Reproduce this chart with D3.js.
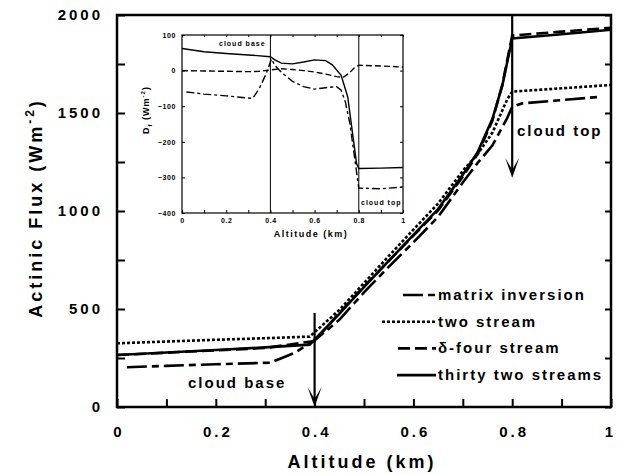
<!DOCTYPE html>
<html>
<head>
<meta charset="utf-8">
<script src="https://cdn.jsdelivr.net/npm/d3@7"></script>
<style>
  body { margin: 0; background: #fff; }
  svg text { font-family: "Liberation Sans", Arial, sans-serif; font-weight: bold; fill: #000; }
</style>
</head>
<body>
<script>
// ---- main panel data (altitude km, actinic flux W m-2) ----
var alt32   = [0, 0.1, 0.2, 0.3, 0.39, 0.45, 0.5, 0.55, 0.6, 0.65, 0.7, 0.73, 0.76, 0.78, 0.8, 0.9, 1.0];
var flux32  = [265, 278, 291, 304, 318, 475, 612, 745, 878, 1010, 1185, 1300, 1470, 1640, 1880, 1902, 1925];

var altTwo  = [0, 0.1, 0.2, 0.3, 0.39, 0.45, 0.5, 0.55, 0.6, 0.65, 0.7, 0.73, 0.76, 0.79, 0.8, 0.9, 1.0];
var fluxTwo = [325, 334, 343, 351, 359, 495, 632, 770, 905, 1038, 1205, 1290, 1400, 1570, 1609, 1626, 1643];

var altMat  = [0.02, 0.1, 0.2, 0.31, 0.36, 0.4, 0.45, 0.5, 0.55, 0.6, 0.65, 0.7, 0.73, 0.76, 0.79, 0.8, 0.82, 0.98];
var fluxMat = [203, 210, 218, 226, 277, 340, 445, 585, 715, 840, 970, 1145, 1245, 1335, 1475, 1532, 1549, 1583];

var altD4   = [0, 0.1, 0.2, 0.3, 0.4, 0.45, 0.5, 0.55, 0.6, 0.65, 0.7, 0.73, 0.76, 0.78, 0.8, 0.9, 1.0];
var fluxD4  = [265, 277, 289, 301, 337, 480, 615, 745, 874, 1003, 1175, 1290, 1462, 1645, 1895, 1915, 1935];

var xTicks = [0, 0.1, 0.2, 0.3, 0.4, 0.5, 0.6, 0.7, 0.8, 0.9, 1];
var yTicks = [0, 250, 500, 750, 1000, 1250, 1500, 1750, 2000];

// ---- inset data (D_f, W m-2) ----
var inAltTwo  = [0, 0.1, 0.2, 0.3, 0.4, 0.42, 0.45, 0.5, 0.55, 0.6, 0.65, 0.68, 0.72, 0.75, 0.77, 0.79, 0.8, 0.9, 1.0];
var inDiffTwo = [62, 53, 48, 44, 39, 30, 21, 19, 24, 30, 28, 16, -13, -74, -168, -261, -275, -274, -272];

var inAltD4   = [0, 0.1, 0.2, 0.3, 0.35, 0.4, 0.45, 0.5, 0.55, 0.6, 0.65, 0.7, 0.73, 0.76, 0.78, 0.8, 0.9, 1.0];
var inDiffD4  = [0, -1, -2, -3, -2, 2, 5, 3, 0, -4, -10, -17, -19, -5, 8, 15, 13, 10];

var inAltMat  = [0.02, 0.1, 0.2, 0.3, 0.32, 0.35, 0.38, 0.405, 0.42, 0.45, 0.5, 0.55, 0.6, 0.65, 0.7, 0.72, 0.74, 0.76, 0.78, 0.8, 0.9, 1.0];
var inDiffMat = [-60, -66, -71, -77, -78, -50, -10, 33, 15, -5, -30, -45, -52, -48, -45, -55, -90, -150, -240, -330, -332, -327];

var inXTicks = [0, 0.1, 0.2, 0.3, 0.4, 0.5, 0.6, 0.7, 0.8, 0.9, 1];
var inYTicks = [-400, -300, -200, -100, 0, 100];

var legendNames = ["matrix inversion", "two stream", "\u03b4-four stream", "thirty two streams"];

function zip(a, b) { return a.map(function(v, i) { return [v, b[i]]; }); }

function tenthsLabel(d) {
    var k = Math.round(d * 10);
    if (k % 2) return "";
    return (k === 0 || k === 10) ? String(k / 10) : (k / 10).toFixed(1);
}

var svg = d3.select("body").append("svg")
    .attr("width", 617).attr("height", 474);

// main scales
var x = d3.scaleLinear().domain([0, 1]).range([117, 611]);
var y = d3.scaleLinear().domain([0, 2000]).range([407, 15]);

// x axis
var xAxis = svg.append("g")
    .attr("transform", "translate(0,407)")
    .call(d3.axisBottom(x).tickValues(xTicks).tickSize(-8).tickPadding(19).tickFormat(tenthsLabel));
xAxis.select(".domain").remove();
xAxis.selectAll("line").attr("stroke-width", 2);
xAxis.selectAll("text").style("font-size", "15px").style("letter-spacing", "3px")
    .attr("dx", function(d) { return d === 1 ? "-1px" : "1.5px"; });

// y axis
var yAxis = svg.append("g")
    .attr("transform", "translate(117,0)")
    .call(d3.axisLeft(y).tickValues(yTicks).tickSize(-8).tickPadding(14)
        .tickFormat(function(d) { return d % 500 ? "" : d; }));
yAxis.select(".domain").remove();
yAxis.selectAll("line").attr("stroke-width", 2);
yAxis.selectAll("text").style("font-size", "15px").style("letter-spacing", "3px");

// right side ticks
var yRight = svg.append("g")
    .attr("transform", "translate(611,0)")
    .call(d3.axisRight(y).tickValues(yTicks).tickSize(-6).tickFormat(""));
yRight.select(".domain").remove();
yRight.selectAll("line").attr("stroke-width", 2);

// frame
svg.append("rect")
    .attr("x", x(0)).attr("y", y(2000))
    .attr("width", x(1) - x(0)).attr("height", y(0) - y(2000))
    .attr("fill", "none").attr("stroke", "#000").attr("stroke-width", 2.5);

// axis titles
svg.append("text")
    .attr("x", 362).attr("y", 468)
    .attr("text-anchor", "middle")
    .style("font-size", "18px").style("letter-spacing", "3px")
    .text("Altitude (km)");

var yt = svg.append("text")
    .attr("transform", "translate(42,208) rotate(-90)")
    .attr("text-anchor", "middle")
    .style("font-size", "18px").style("letter-spacing", "3px");
yt.append("tspan").text("Actinic Flux (Wm");
yt.append("tspan").attr("dy", -8).style("font-size", "12px").text("-2");
yt.append("tspan").attr("dy", 8).text(")");

// series
var line = d3.line()
    .x(function(d) { return x(d[0]); })
    .y(function(d) { return y(d[1]); });

var series = [
    {data: zip(altD4, fluxD4),   dash: "12,5"},
    {data: zip(alt32, flux32),   dash: null},
    {data: zip(altTwo, fluxTwo), dash: "3,2"},
    {data: zip(altMat, fluxMat), dash: "20,5,7,5"}
];
series.forEach(function(s) {
    svg.append("path")
        .datum(s.data)
        .attr("d", line)
        .attr("fill", "none")
        .attr("stroke", "#000")
        .attr("stroke-width", 2.6)
        .attr("stroke-dasharray", s.dash);
});

// arrows
function arrow(xv, y0, y1) {
    var xp = x(xv), top = y(y0), tip = y(y1);
    svg.append("line")
        .attr("x1", xp).attr("x2", xp).attr("y1", top).attr("y2", tip - 4)
        .attr("stroke", "#000").attr("stroke-width", 2.2);
    svg.append("path")
        .attr("d", "M" + (xp - 7) + "," + (tip - 20) + " L" + xp + "," + tip +
            " L" + (xp + 7) + "," + (tip - 20) + " L" + xp + "," + (tip - 8) + " Z")
        .attr("fill", "#000");
}
arrow(0.4, 480, 0);
arrow(0.8, 2000, 1170);

svg.append("text").attr("x", 188).attr("y", 388)
    .style("font-size", "15px").style("letter-spacing", "2px").text("cloud base");
svg.append("text").attr("x", 517).attr("y", 136)
    .style("font-size", "15px").style("letter-spacing", "2px").text("cloud top");

// legend
var legDash = ["20,5,7,5", "3,2", "12,5", null];
var legStart = [403, 382, 398, 397];
legendNames.forEach(function(name, i) {
    var base = 300 + i * 26.7;
    svg.append("line")
        .attr("x1", legStart[i]).attr("x2", 436)
        .attr("y1", base - 5).attr("y2", base - 5)
        .attr("stroke", "#000").attr("stroke-width", 2.6)
        .attr("stroke-dasharray", legDash[i]);
    svg.append("text")
        .attr("x", 438).attr("y", base)
        .style("font-size", "15px").style("letter-spacing", "2px")
        .text(name);
});

// ---- inset ----
var ix = d3.scaleLinear().domain([0, 1]).range([182, 403]);
var iy = d3.scaleLinear().domain([-400, 100]).range([213, 35]);

svg.append("rect")
    .attr("x", ix(0)).attr("y", iy(100))
    .attr("width", ix(1) - ix(0)).attr("height", iy(-400) - iy(100))
    .attr("fill", "#fff").attr("stroke", "#000").attr("stroke-width", 1.2);

var ixAxis = svg.append("g")
    .attr("transform", "translate(0," + iy(-400) + ")")
    .call(d3.axisBottom(ix).tickValues(inXTicks).tickSize(-3).tickPadding(5).tickFormat(tenthsLabel));
ixAxis.select(".domain").remove();
ixAxis.selectAll("text").style("font-size", "7px").style("letter-spacing", "0.6px");

var ixTop = svg.append("g")
    .attr("transform", "translate(0," + iy(100) + ")")
    .call(d3.axisTop(ix).tickValues(inXTicks).tickSize(-2).tickFormat(""));
ixTop.select(".domain").remove();

var iyAxis = svg.append("g")
    .attr("transform", "translate(" + ix(0) + ",0)")
    .call(d3.axisLeft(iy).tickValues(inYTicks).tickSize(-3).tickPadding(6));
iyAxis.select(".domain").remove();
iyAxis.selectAll("text").style("font-size", "7px").style("letter-spacing", "0.6px");

var iyRight = svg.append("g")
    .attr("transform", "translate(" + ix(1) + ",0)")
    .call(d3.axisRight(iy).tickValues(inYTicks).tickSize(-3).tickFormat(""));
iyRight.select(".domain").remove();

[0.4, 0.8].forEach(function(v) {
    svg.append("line")
        .attr("x1", ix(v)).attr("x2", ix(v)).attr("y1", iy(100)).attr("y2", iy(-400))
        .attr("stroke", "#000").attr("stroke-width", 1);
});

var iline = d3.line()
    .x(function(d) { return ix(d[0]); })
    .y(function(d) { return iy(d[1]); });

var inset = [
    {data: zip(inAltD4, inDiffD4),   dash: "6,3"},
    {data: zip(inAltTwo, inDiffTwo), dash: null},
    {data: zip(inAltMat, inDiffMat), dash: "8,3,3,3"}
];
inset.forEach(function(s) {
    svg.append("path")
        .datum(s.data)
        .attr("d", iline)
        .attr("fill", "none")
        .attr("stroke", "#000")
        .attr("stroke-width", 1.4)
        .attr("stroke-dasharray", s.dash);
});

svg.append("text").attr("x", 219).attr("y", 46)
    .style("font-size", "7px").style("letter-spacing", "1px").text("cloud base");
svg.append("text").attr("x", 361).attr("y", 205)
    .style("font-size", "7px").style("letter-spacing", "1px").text("cloud top");

svg.append("text")
    .attr("x", 311).attr("y", 237)
    .attr("text-anchor", "middle")
    .style("font-size", "9px").style("letter-spacing", "1.5px")
    .text("Altitude (km)");

var iyt = svg.append("text")
    .attr("transform", "translate(149,110) rotate(-90)")
    .attr("text-anchor", "middle")
    .style("font-size", "9px").style("letter-spacing", "1px");
iyt.append("tspan").text("D");
iyt.append("tspan").attr("dy", 3).style("font-size", "6px").text("f");
iyt.append("tspan").attr("dy", -3).text(" (Wm");
iyt.append("tspan").attr("dy", -4).style("font-size", "6px").text("-2");
iyt.append("tspan").attr("dy", 4).text(")");
</script>
</body>
</html>
